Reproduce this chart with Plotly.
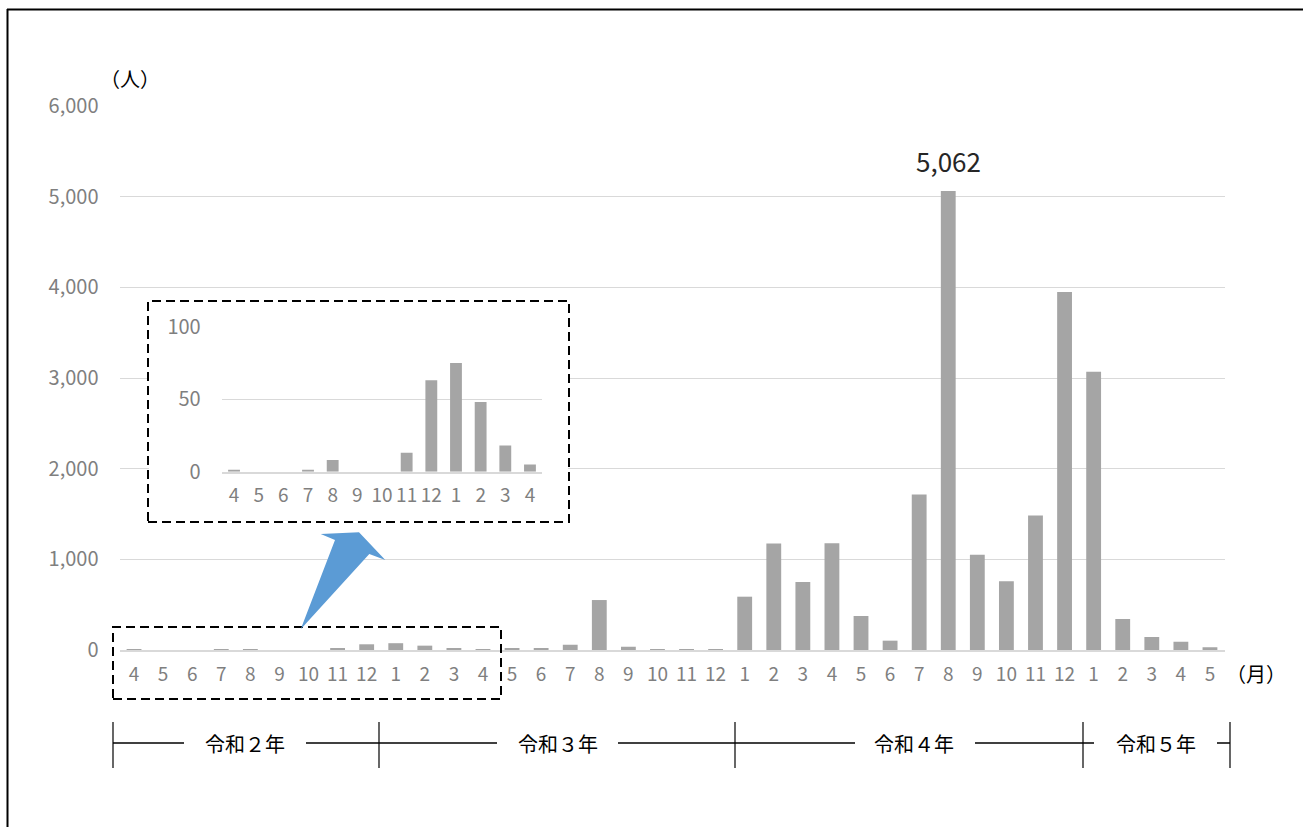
import plotly.graph_objects as go

W, H = 1303, 827
FONT = "Noto Sans CJK JP"

# ---------------- data ----------------
month_labels = ["4", "5", "6", "7", "8", "9", "10", "11", "12",
                "1", "2", "3", "4", "5", "6", "7", "8", "9", "10", "11", "12",
                "1", "2", "3", "4", "5", "6", "7", "8", "9", "10", "11", "12",
                "1", "2", "3", "4", "5"]
patients = [1, 0, 0, 1, 8, 0, 0, 13, 63,
            75, 48, 18, 5, 22, 15, 58, 551, 36, 3, 1, 3,
            588, 1176, 750, 1178, 375, 103, 1716, 5062, 1051, 757, 1484, 3948,
            3068, 342, 144, 92, 30]

inset_labels = ["4", "5", "6", "7", "8", "9", "10", "11", "12", "1", "2", "3", "4"]
inset_values = [1, 0, 0, 1, 8, 0, 0, 13, 63, 75, 48, 18, 5]

y_ticks = [0, 1000, 2000, 3000, 4000, 5000, 6000]
inset_y_ticks = [0, 50, 100]

peak_label = "5,062"
year_labels = ["令和２年", "令和３年", "令和４年", "令和５年"]
y_unit = "（人）"
x_unit = "（月）"


def px(x):
    return x / W


def py(y):
    return 1 - y / H


BAR = "#a5a5a5"
GRID = "#d9d9d9"
TICK = "#7f7f7f"

fig = go.Figure()
fig.add_trace(go.Bar(x=list(range(len(patients))), y=patients,
                     marker=dict(color=BAR, line=dict(width=0)),
                     width=0.51, xaxis="x", yaxis="y", hoverinfo="skip"))
# empty trace on the white "box" subplot (covers main gridlines)
fig.add_trace(go.Scatter(x=[None], y=[None], xaxis="x2", yaxis="y2",
                         mode="markers", hoverinfo="skip"))
fig.add_trace(go.Bar(x=list(range(len(inset_values))), y=inset_values,
                     marker=dict(color=BAR, line=dict(width=0)),
                     width=0.48, xaxis="x3", yaxis="y3", hoverinfo="skip"))

xtickfont = dict(family=FONT, size=19, color=TICK)
ytickfont = dict(family=FONT, size=20, color=TICK)
hidden = dict(visible=False, showgrid=False, zeroline=False, fixedrange=True, range=[0, 1])

fig.update_layout(
    width=W, height=H,
    margin=dict(l=0, r=0, t=0, b=0, autoexpand=False),
    paper_bgcolor="white", plot_bgcolor="white",
    showlegend=False,
    font=dict(family=FONT),
    xaxis=dict(domain=[px(119.5), px(1224.5)], range=[-0.5, len(patients) - 0.5],
               tickmode="array", tickvals=list(range(len(patients))), ticktext=month_labels,
               showgrid=False, zeroline=False, showline=True, linecolor=GRID, linewidth=1.5,
               ticks="", tickfont=xtickfont, ticklabelstandoff=6, fixedrange=True),
    yaxis=dict(domain=[py(650), py(106)], range=[0, 6000],
               tickmode="array", tickvals=y_ticks, tickformat=",",
               showgrid=True, gridcolor=GRID, gridwidth=1, zeroline=False,
               showline=False, ticks="", tickfont=ytickfont,
               ticklabelstandoff=20, fixedrange=True),
    xaxis2=dict(domain=[px(149), px(568)], anchor="y2", **hidden),
    yaxis2=dict(domain=[py(521), py(302)], anchor="x2", **hidden),
    xaxis3=dict(domain=[px(221.7), px(542.3)], anchor="y3",
                range=[-0.5, len(inset_values) - 0.5],
                tickmode="array", tickvals=list(range(len(inset_values))), ticktext=inset_labels,
                showgrid=False, zeroline=False, showline=True, linecolor=GRID, linewidth=1.5,
                ticks="", tickfont=xtickfont, ticklabelstandoff=6, fixedrange=True),
    yaxis3=dict(domain=[py(471.7), py(326.7)], anchor="x3", range=[0, 100],
                tickmode="array", tickvals=inset_y_ticks,
                showgrid=True, gridcolor=GRID, gridwidth=1, zeroline=False,
                showline=False, ticks="", tickfont=ytickfont,
                ticklabelstandoff=20, fixedrange=True),
)

shapes = []
# dashed boxes
for (x0, y0, x1, y1) in [(148, 301, 569, 522), (113, 627, 501, 699)]:
    shapes.append(dict(type="rect", xref="paper", yref="paper", layer="above",
                       x0=px(x0), x1=px(x1), y0=py(y1), y1=py(y0),
                       fillcolor="rgba(0,0,0,0)",
                       line=dict(color="black", width=2, dash="9px,5px")))
# arrow
arrow_pts = [(300.7, 629.3), (335, 540), (320.7, 534), (359, 532.3), (385.3, 560), (369.3, 554)]
path = "M " + " L ".join(f"{px(x):.5f},{py(y):.5f}" for x, y in arrow_pts) + " Z"
shapes.append(dict(type="path", xref="paper", yref="paper", layer="above", path=path,
                   fillcolor="#5b9bd5", line=dict(width=0)))
# outer border (left and top)
shapes.append(dict(type="line", xref="paper", yref="paper", x0=px(7.5), x1=px(7.5),
                   y0=py(9), y1=py(H + 5), line=dict(color="black", width=2)))
shapes.append(dict(type="line", xref="paper", yref="paper", x0=px(7), x1=px(W + 5),
                   y0=py(9.5), y1=py(9.5), line=dict(color="black", width=2)))
# year brackets
for xv in [113, 379, 735, 1083, 1230]:
    shapes.append(dict(type="line", xref="paper", yref="paper", x0=px(xv), x1=px(xv),
                       y0=py(722), y1=py(768), line=dict(color="black", width=1.2)))
for (a, b) in [(113, 184), (306, 497), (618, 855), (975, 1094), (1217, 1230)]:
    shapes.append(dict(type="line", xref="paper", yref="paper", x0=px(a), x1=px(b),
                       y0=py(743), y1=py(743), line=dict(color="black", width=1.5)))

annotations = []
for txt, cx in zip(year_labels, [245, 558, 914, 1156]):
    annotations.append(dict(text=txt, xref="paper", yref="paper", x=px(cx), y=py(743),
                            xanchor="center", yanchor="middle", showarrow=False,
                            font=dict(family=FONT, size=20, color="black")))
annotations.append(dict(text=y_unit, xref="paper", yref="paper", x=px(130), y=py(78),
                        xanchor="center", yanchor="middle", showarrow=False,
                        font=dict(family=FONT, size=20, color="black")))
annotations.append(dict(text=x_unit, xref="paper", yref="paper", x=px(1256), y=py(673),
                        xanchor="center", yanchor="middle", showarrow=False,
                        font=dict(family=FONT, size=20, color="black")))
peak_idx = patients.index(max(patients))
annotations.append(dict(text=peak_label, xref="x", yref="y", x=peak_idx, y=patients[peak_idx],
                        xanchor="center", yanchor="middle", yshift=31, showarrow=False,
                        font=dict(family=FONT, size=26, color="#262626")))

fig.update_layout(shapes=shapes, annotations=annotations)
fig.write_html("out.html")
